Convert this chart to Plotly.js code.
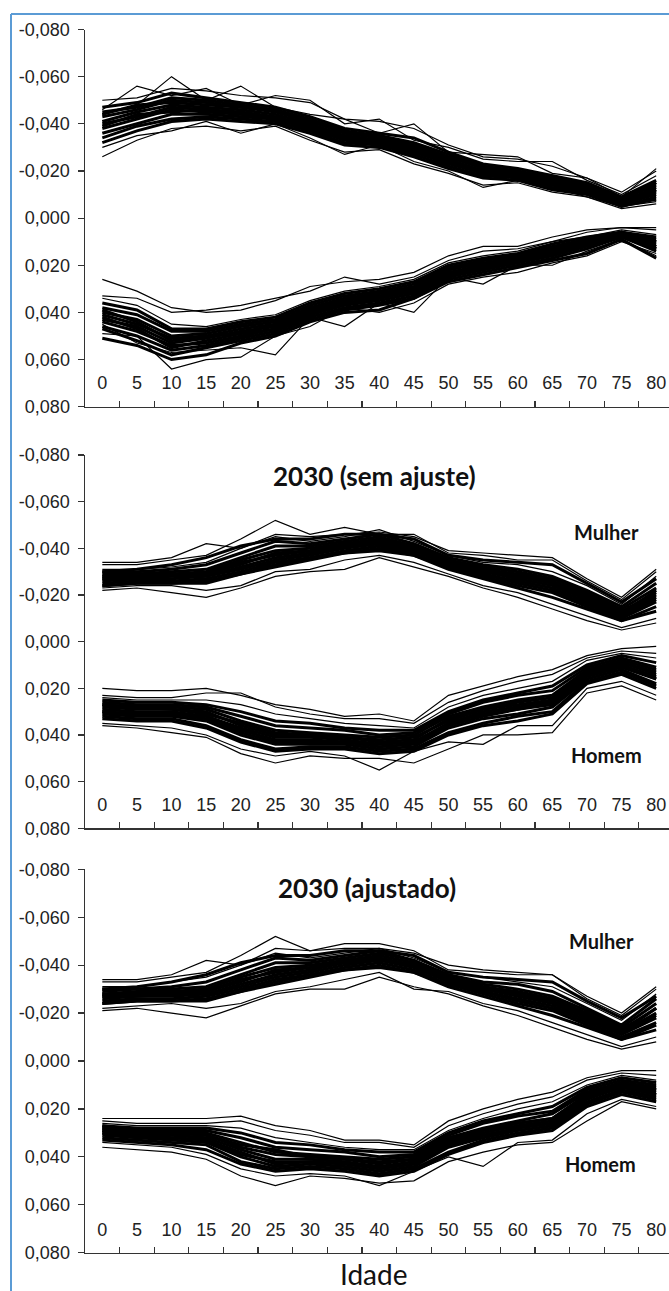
<!DOCTYPE html>
<html>
<head>
<meta charset="utf-8">
<script src="https://cdn.plot.ly/plotly-3.0.1.min.js"></script>
<style>
html,body{margin:0;padding:0;background:#fff;overflow:hidden;}
#chart{width:669px;height:1291px;}
</style>
</head>
<body>
<div id="chart"></div>
<script>
// Categories (age groups)
const idades = ['0','5','10','15','20','25','30','35','40','45','50','55','60','65','70','75','80'];
// Y tick labels
const yTickVals = [-0.08,-0.06,-0.04,-0.02,0,0.02,0.04,0.06,0.08];
const yTickText = ['-0,080','-0,060','-0,040','-0,020','0,000','0,020','0,040','0,060','0,080'];
const titulos = ['2030 (sem ajuste)','2030 (ajustado)'];
const rotulos = ['Mulher','Homem'];
const eixoX = 'Idade';

// Panel 1 - Mulher
const p1Mulher = [
 [-0.050,-0.051,-0.055,-0.054,-0.052,-0.051,-0.049,-0.042,-0.041,-0.038,-0.031,-0.026,-0.025,-0.022,-0.017,-0.011,-0.020],
 [-0.046,-0.056,-0.052,-0.055,-0.048,-0.052,-0.050,-0.040,-0.042,-0.033,-0.030,-0.025,-0.024,-0.024,-0.016,-0.010,-0.018],
 [-0.044,-0.048,-0.060,-0.050,-0.056,-0.047,-0.044,-0.042,-0.036,-0.040,-0.028,-0.027,-0.026,-0.019,-0.017,-0.009,-0.021],
 [-0.047,-0.049,-0.053,-0.051,-0.049,-0.047,-0.043,-0.038,-0.036,-0.034,-0.028,-0.023,-0.021,-0.018,-0.015,-0.009,-0.016],
 [-0.045,-0.047,-0.051,-0.050,-0.048,-0.046,-0.042,-0.037,-0.035,-0.032,-0.027,-0.022,-0.020,-0.017,-0.014,-0.008,-0.015],
 [-0.043,-0.046,-0.050,-0.049,-0.047,-0.045,-0.041,-0.036,-0.034,-0.031,-0.026,-0.021,-0.019,-0.016,-0.013,-0.008,-0.014],
 [-0.041,-0.045,-0.048,-0.047,-0.046,-0.044,-0.040,-0.035,-0.033,-0.030,-0.025,-0.020,-0.019,-0.016,-0.013,-0.007,-0.013],
 [-0.040,-0.043,-0.047,-0.046,-0.045,-0.043,-0.039,-0.034,-0.033,-0.029,-0.024,-0.020,-0.018,-0.015,-0.012,-0.007,-0.012],
 [-0.038,-0.042,-0.046,-0.045,-0.044,-0.042,-0.038,-0.034,-0.032,-0.028,-0.024,-0.019,-0.018,-0.014,-0.012,-0.006,-0.011],
 [-0.036,-0.040,-0.044,-0.044,-0.043,-0.042,-0.038,-0.033,-0.031,-0.028,-0.023,-0.019,-0.017,-0.014,-0.011,-0.006,-0.010],
 [-0.034,-0.039,-0.042,-0.043,-0.042,-0.041,-0.037,-0.032,-0.031,-0.027,-0.022,-0.018,-0.017,-0.013,-0.011,-0.005,-0.009],
 [-0.032,-0.037,-0.041,-0.042,-0.041,-0.040,-0.036,-0.031,-0.030,-0.026,-0.021,-0.017,-0.016,-0.012,-0.010,-0.005,-0.008],
 [-0.026,-0.033,-0.038,-0.039,-0.037,-0.039,-0.033,-0.028,-0.029,-0.023,-0.019,-0.014,-0.015,-0.011,-0.009,-0.004,-0.006],
 [-0.030,-0.035,-0.037,-0.041,-0.036,-0.040,-0.034,-0.027,-0.031,-0.024,-0.020,-0.013,-0.016,-0.013,-0.009,-0.005,-0.007],
 [-0.044,-0.048,-0.049,-0.048,-0.047,-0.046,-0.041,-0.037,-0.034,-0.031,-0.026,-0.022,-0.020,-0.017,-0.014,-0.008,-0.015],
 [-0.039,-0.044,-0.045,-0.046,-0.044,-0.043,-0.039,-0.034,-0.032,-0.029,-0.024,-0.019,-0.018,-0.015,-0.012,-0.006,-0.012]
];
// Panel 1 - Homem
const p1Homem = [
 [0.026,0.031,0.038,0.040,0.039,0.035,0.029,0.027,0.026,0.023,0.016,0.012,0.012,0.008,0.005,0.004,0.005],
 [0.033,0.034,0.040,0.039,0.037,0.034,0.031,0.025,0.028,0.025,0.018,0.014,0.013,0.010,0.006,0.004,0.004],
 [0.034,0.037,0.045,0.046,0.043,0.041,0.035,0.031,0.029,0.026,0.019,0.016,0.014,0.010,0.008,0.005,0.007],
 [0.036,0.039,0.047,0.047,0.044,0.042,0.036,0.032,0.030,0.027,0.020,0.017,0.015,0.011,0.008,0.006,0.008],
 [0.038,0.041,0.048,0.048,0.045,0.043,0.037,0.033,0.031,0.028,0.021,0.018,0.016,0.012,0.009,0.006,0.009],
 [0.040,0.043,0.050,0.049,0.046,0.044,0.038,0.034,0.032,0.029,0.022,0.018,0.016,0.013,0.009,0.006,0.010],
 [0.041,0.045,0.051,0.050,0.047,0.045,0.039,0.035,0.033,0.030,0.022,0.019,0.017,0.014,0.010,0.007,0.011],
 [0.043,0.046,0.053,0.051,0.048,0.046,0.040,0.036,0.034,0.031,0.023,0.020,0.018,0.014,0.010,0.007,0.012],
 [0.044,0.048,0.054,0.053,0.050,0.047,0.041,0.037,0.035,0.032,0.024,0.021,0.018,0.015,0.011,0.007,0.012],
 [0.046,0.050,0.056,0.054,0.051,0.048,0.042,0.038,0.036,0.033,0.025,0.022,0.019,0.016,0.012,0.008,0.013],
 [0.047,0.052,0.058,0.055,0.052,0.049,0.043,0.039,0.037,0.034,0.026,0.023,0.020,0.017,0.013,0.008,0.014],
 [0.051,0.054,0.060,0.058,0.053,0.050,0.044,0.040,0.039,0.034,0.027,0.024,0.021,0.018,0.015,0.009,0.017],
 [0.049,0.050,0.064,0.060,0.059,0.050,0.046,0.038,0.040,0.036,0.028,0.025,0.023,0.019,0.016,0.010,0.015],
 [0.045,0.053,0.057,0.056,0.055,0.058,0.042,0.046,0.036,0.040,0.025,0.028,0.020,0.020,0.014,0.009,0.016],
 [0.039,0.044,0.052,0.050,0.049,0.045,0.039,0.035,0.032,0.030,0.021,0.020,0.017,0.013,0.010,0.006,0.010],
 [0.042,0.047,0.055,0.052,0.049,0.047,0.041,0.036,0.034,0.031,0.024,0.021,0.018,0.015,0.011,0.007,0.013]
];
// Panel 2 (sem ajuste) - Mulher
const p2Mulher = [
 [-0.034,-0.034,-0.036,-0.042,-0.040,-0.046,-0.045,-0.046,-0.047,-0.045,-0.039,-0.038,-0.037,-0.036,-0.027,-0.019,-0.031],
 [-0.033,-0.033,-0.035,-0.037,-0.044,-0.052,-0.046,-0.049,-0.046,-0.046,-0.038,-0.037,-0.035,-0.035,-0.026,-0.018,-0.030],
 [-0.031,-0.031,-0.032,-0.034,-0.040,-0.045,-0.043,-0.045,-0.048,-0.043,-0.037,-0.034,-0.033,-0.030,-0.024,-0.016,-0.028],
 [-0.030,-0.030,-0.031,-0.033,-0.038,-0.043,-0.042,-0.044,-0.046,-0.042,-0.036,-0.033,-0.031,-0.028,-0.022,-0.015,-0.025],
 [-0.029,-0.029,-0.030,-0.031,-0.036,-0.041,-0.041,-0.043,-0.045,-0.041,-0.035,-0.032,-0.030,-0.027,-0.021,-0.014,-0.023],
 [-0.028,-0.029,-0.029,-0.030,-0.035,-0.039,-0.040,-0.042,-0.044,-0.041,-0.035,-0.031,-0.029,-0.026,-0.020,-0.013,-0.021],
 [-0.028,-0.028,-0.029,-0.029,-0.033,-0.038,-0.039,-0.041,-0.043,-0.040,-0.034,-0.031,-0.028,-0.025,-0.019,-0.012,-0.020],
 [-0.027,-0.027,-0.028,-0.028,-0.032,-0.036,-0.038,-0.041,-0.042,-0.040,-0.034,-0.030,-0.027,-0.024,-0.018,-0.012,-0.019],
 [-0.026,-0.027,-0.027,-0.028,-0.031,-0.035,-0.037,-0.040,-0.042,-0.039,-0.033,-0.029,-0.026,-0.023,-0.017,-0.011,-0.018],
 [-0.025,-0.026,-0.026,-0.027,-0.030,-0.034,-0.036,-0.039,-0.041,-0.038,-0.032,-0.029,-0.025,-0.022,-0.016,-0.010,-0.017],
 [-0.024,-0.025,-0.025,-0.026,-0.029,-0.033,-0.036,-0.038,-0.040,-0.037,-0.032,-0.028,-0.024,-0.021,-0.015,-0.009,-0.015],
 [-0.024,-0.025,-0.025,-0.025,-0.029,-0.032,-0.035,-0.038,-0.039,-0.037,-0.031,-0.027,-0.023,-0.019,-0.014,-0.009,-0.013],
 [-0.022,-0.023,-0.021,-0.019,-0.023,-0.028,-0.030,-0.031,-0.036,-0.032,-0.028,-0.023,-0.019,-0.014,-0.009,-0.005,-0.008],
 [-0.023,-0.024,-0.024,-0.022,-0.024,-0.030,-0.031,-0.035,-0.037,-0.034,-0.029,-0.024,-0.021,-0.016,-0.011,-0.006,-0.010],
 [-0.030,-0.031,-0.033,-0.036,-0.041,-0.044,-0.044,-0.046,-0.046,-0.044,-0.037,-0.035,-0.034,-0.033,-0.025,-0.017,-0.027],
 [-0.027,-0.028,-0.028,-0.029,-0.034,-0.037,-0.039,-0.042,-0.043,-0.040,-0.034,-0.030,-0.028,-0.025,-0.019,-0.012,-0.022]
];
// Panel 2 (sem ajuste) - Homem
const p2Homem = [
 [0.020,0.021,0.021,0.020,0.023,0.027,0.029,0.032,0.031,0.034,0.023,0.019,0.015,0.012,0.006,0.003,0.002],
 [0.023,0.024,0.024,0.022,0.022,0.028,0.031,0.033,0.033,0.035,0.026,0.021,0.017,0.014,0.007,0.004,0.005],
 [0.024,0.025,0.025,0.025,0.027,0.031,0.033,0.035,0.036,0.037,0.028,0.023,0.020,0.017,0.008,0.005,0.007],
 [0.025,0.026,0.026,0.027,0.030,0.034,0.035,0.037,0.038,0.038,0.030,0.025,0.022,0.019,0.010,0.006,0.009],
 [0.026,0.027,0.027,0.028,0.032,0.036,0.037,0.038,0.040,0.039,0.031,0.026,0.023,0.021,0.011,0.007,0.011],
 [0.027,0.028,0.028,0.029,0.034,0.038,0.039,0.040,0.041,0.040,0.032,0.028,0.025,0.023,0.012,0.008,0.012],
 [0.028,0.029,0.029,0.030,0.036,0.040,0.040,0.041,0.042,0.041,0.034,0.029,0.026,0.024,0.013,0.009,0.014],
 [0.029,0.030,0.030,0.032,0.037,0.041,0.041,0.042,0.044,0.043,0.035,0.030,0.028,0.026,0.014,0.010,0.015],
 [0.030,0.031,0.031,0.033,0.039,0.043,0.043,0.043,0.045,0.044,0.036,0.032,0.029,0.027,0.015,0.011,0.016],
 [0.031,0.032,0.032,0.034,0.040,0.044,0.044,0.044,0.046,0.045,0.037,0.033,0.031,0.028,0.016,0.012,0.018],
 [0.032,0.033,0.033,0.036,0.042,0.046,0.045,0.045,0.047,0.046,0.039,0.035,0.032,0.030,0.017,0.013,0.019],
 [0.033,0.034,0.034,0.037,0.043,0.047,0.046,0.046,0.048,0.047,0.040,0.036,0.034,0.031,0.018,0.014,0.020],
 [0.036,0.037,0.039,0.041,0.048,0.052,0.049,0.050,0.050,0.052,0.046,0.040,0.040,0.039,0.022,0.019,0.025],
 [0.035,0.036,0.037,0.040,0.046,0.049,0.047,0.049,0.055,0.047,0.043,0.044,0.036,0.036,0.020,0.017,0.023],
 [0.027,0.028,0.029,0.031,0.035,0.039,0.040,0.041,0.043,0.042,0.033,0.029,0.027,0.025,0.013,0.009,0.013],
 [0.030,0.031,0.031,0.032,0.038,0.042,0.042,0.043,0.044,0.043,0.035,0.031,0.029,0.026,0.014,0.010,0.016]
];
// Panel 3 (ajustado) - Mulher
const p3Mulher = [
 [-0.034,-0.034,-0.036,-0.042,-0.040,-0.047,-0.046,-0.047,-0.047,-0.045,-0.040,-0.038,-0.037,-0.036,-0.027,-0.020,-0.031],
 [-0.033,-0.033,-0.035,-0.037,-0.044,-0.052,-0.046,-0.049,-0.049,-0.046,-0.038,-0.037,-0.036,-0.036,-0.026,-0.019,-0.030],
 [-0.031,-0.031,-0.033,-0.035,-0.040,-0.045,-0.043,-0.045,-0.047,-0.043,-0.037,-0.035,-0.033,-0.031,-0.024,-0.017,-0.028],
 [-0.030,-0.030,-0.031,-0.033,-0.038,-0.043,-0.042,-0.044,-0.046,-0.042,-0.036,-0.033,-0.032,-0.029,-0.022,-0.015,-0.026],
 [-0.029,-0.030,-0.030,-0.031,-0.036,-0.041,-0.041,-0.043,-0.045,-0.042,-0.035,-0.032,-0.030,-0.027,-0.021,-0.014,-0.024],
 [-0.028,-0.029,-0.029,-0.030,-0.035,-0.039,-0.040,-0.042,-0.044,-0.041,-0.035,-0.031,-0.029,-0.026,-0.020,-0.013,-0.022],
 [-0.028,-0.028,-0.029,-0.029,-0.033,-0.038,-0.039,-0.041,-0.043,-0.040,-0.034,-0.031,-0.028,-0.025,-0.019,-0.012,-0.020],
 [-0.027,-0.027,-0.028,-0.028,-0.032,-0.036,-0.038,-0.041,-0.042,-0.040,-0.034,-0.030,-0.027,-0.024,-0.018,-0.012,-0.019],
 [-0.026,-0.027,-0.027,-0.028,-0.031,-0.035,-0.037,-0.040,-0.042,-0.039,-0.033,-0.029,-0.026,-0.023,-0.017,-0.011,-0.018],
 [-0.025,-0.026,-0.026,-0.027,-0.030,-0.034,-0.036,-0.039,-0.041,-0.038,-0.032,-0.029,-0.025,-0.022,-0.016,-0.010,-0.016],
 [-0.024,-0.025,-0.025,-0.026,-0.029,-0.033,-0.036,-0.038,-0.040,-0.037,-0.032,-0.028,-0.024,-0.021,-0.015,-0.009,-0.015],
 [-0.024,-0.025,-0.025,-0.025,-0.029,-0.032,-0.035,-0.038,-0.039,-0.037,-0.031,-0.027,-0.023,-0.019,-0.014,-0.009,-0.013],
 [-0.021,-0.022,-0.020,-0.018,-0.023,-0.028,-0.030,-0.030,-0.035,-0.031,-0.028,-0.023,-0.019,-0.014,-0.009,-0.005,-0.008],
 [-0.022,-0.023,-0.024,-0.022,-0.024,-0.029,-0.031,-0.034,-0.037,-0.030,-0.029,-0.024,-0.021,-0.016,-0.011,-0.006,-0.010],
 [-0.030,-0.031,-0.033,-0.036,-0.041,-0.044,-0.044,-0.046,-0.046,-0.044,-0.037,-0.035,-0.034,-0.033,-0.025,-0.018,-0.027],
 [-0.027,-0.028,-0.028,-0.029,-0.034,-0.037,-0.039,-0.042,-0.043,-0.040,-0.034,-0.030,-0.028,-0.025,-0.019,-0.012,-0.022]
];
// Panel 3 (ajustado) - Homem
const p3Homem = [
 [0.024,0.024,0.024,0.024,0.023,0.027,0.029,0.033,0.033,0.035,0.025,0.020,0.016,0.013,0.007,0.004,0.004],
 [0.025,0.026,0.026,0.026,0.025,0.029,0.031,0.034,0.034,0.036,0.027,0.022,0.018,0.015,0.008,0.005,0.006],
 [0.026,0.027,0.027,0.027,0.028,0.032,0.034,0.036,0.037,0.037,0.029,0.024,0.020,0.017,0.010,0.006,0.008],
 [0.027,0.028,0.028,0.028,0.030,0.034,0.035,0.037,0.038,0.038,0.030,0.025,0.022,0.019,0.011,0.007,0.009],
 [0.027,0.029,0.029,0.029,0.032,0.036,0.037,0.038,0.040,0.039,0.031,0.026,0.023,0.021,0.012,0.008,0.010],
 [0.028,0.029,0.030,0.030,0.034,0.038,0.039,0.040,0.041,0.040,0.032,0.028,0.025,0.022,0.013,0.009,0.011],
 [0.029,0.030,0.030,0.031,0.036,0.039,0.040,0.041,0.042,0.041,0.033,0.029,0.026,0.024,0.014,0.009,0.012],
 [0.029,0.031,0.031,0.032,0.037,0.041,0.041,0.042,0.044,0.042,0.034,0.030,0.027,0.025,0.015,0.010,0.013],
 [0.030,0.031,0.032,0.033,0.039,0.042,0.042,0.043,0.045,0.043,0.035,0.031,0.028,0.026,0.016,0.011,0.014],
 [0.031,0.032,0.033,0.034,0.040,0.044,0.043,0.044,0.046,0.044,0.036,0.032,0.029,0.027,0.017,0.012,0.015],
 [0.032,0.033,0.034,0.035,0.042,0.045,0.044,0.045,0.047,0.045,0.038,0.033,0.030,0.028,0.018,0.013,0.016],
 [0.033,0.034,0.035,0.037,0.043,0.046,0.045,0.046,0.048,0.046,0.039,0.034,0.031,0.029,0.019,0.014,0.017],
 [0.036,0.037,0.038,0.041,0.048,0.052,0.048,0.049,0.051,0.050,0.042,0.038,0.035,0.034,0.025,0.017,0.020],
 [0.034,0.035,0.036,0.039,0.045,0.048,0.047,0.048,0.052,0.046,0.040,0.044,0.034,0.033,0.022,0.016,0.019],
 [0.028,0.030,0.030,0.031,0.035,0.037,0.040,0.041,0.043,0.041,0.033,0.029,0.026,0.024,0.014,0.010,0.012],
 [0.030,0.032,0.032,0.033,0.038,0.043,0.042,0.043,0.045,0.043,0.035,0.031,0.028,0.026,0.015,0.011,0.014]
];

const W = 669, H = 1291;
const px = v => v / W;
const py = v => 1 - v / H;

const panels = [
  {groups:[p1Mulher,p1Homem], top:29.5, bottom:406.7, labelY:370},
  {groups:[p2Mulher,p2Homem], top:455, bottom:828.3, labelY:792},
  {groups:[p3Mulher,p3Homem], top:869.3, bottom:1252.7, labelY:1217}
];

// thin lines for the outer/jagged series, thicker for the dense core
const outer = new Set([0,1,2,12,13]);

const traces = [];
panels.forEach((p, i) => {
  const sfx = i === 0 ? '' : String(i + 1);
  p.groups.forEach(g => {
    g.forEach((serie, k) => {
      traces.push({
        type:'scatter', mode:'lines', x: idades, y: serie,
        xaxis:'x' + sfx, yaxis:'y' + sfx,
        line:{color:'#000', width: outer.has(k) ? 1.2 : 3}, hoverinfo:'skip', showlegend:false
      });
    });
  });
  // empty trace so that the label-only subplot exists
  const n = i + 4;
  traces.push({type:'scatter', mode:'lines', x:[], y:[], xaxis:'x' + n, yaxis:'y' + n,
    hoverinfo:'skip', showlegend:false});
});

const tickFont = {family:'"Liberation Sans", Arial, sans-serif', size:18, color:'#222'};
const layout = {
  width: W, height: H,
  margin:{l:0, r:0, t:0, b:0},
  paper_bgcolor:'#fff', plot_bgcolor:'rgba(0,0,0,0)',
  showlegend:false,
  annotations: [], shapes: []
};

const xRange = [-0.5, 16.37];
panels.forEach((p, i) => {
  const sfx = i === 0 ? '' : String(i + 1);
  layout['xaxis' + sfx] = {
    type:'category', domain:[px(85), 1], range:xRange, anchor:'y' + sfx,
    showline:true, linecolor:'#333', linewidth:1.5,
    ticks:'inside', ticklen:6, tickcolor:'#333', tickwidth:1.2,
    tickson:'boundaries', showticklabels:false,
    showgrid:false, zeroline:false, fixedrange:true
  };
  layout['yaxis' + sfx] = {
    domain:[py(p.bottom), py(p.top)], range:[0.08, -0.08], anchor:'x' + sfx,
    tickvals: yTickVals, ticktext: yTickText,
    showline:true, linecolor:'#333', linewidth:1.5,
    ticks:'outside', ticklen:6, tickcolor:'#333', tickwidth:1.2,
    ticklabelstandoff:4,
    tickfont: tickFont, showgrid:false, zeroline:false, fixedrange:true
  };
  // label-only axis pair: carries the age labels just above each panel's x axis
  const n = i + 4;
  layout['xaxis' + n] = {
    visible:true, type:'linear', domain:[px(85), 1], range:xRange, anchor:'y' + n,
    tickmode:'array', tickvals: idades.map((_, j) => j), ticktext: idades,
    showticklabels:true, showline:false, ticks:'', tickfont: tickFont,
    showgrid:false, zeroline:false, fixedrange:true
  };
  layout['yaxis' + n] = {
    visible:true, domain:[py(p.labelY), py(p.top)], range:[0, 1], anchor:'x' + n,
    showline:false, ticks:'', showticklabels:false,
    showgrid:false, zeroline:false, fixedrange:true
  };
});

const titleFont = {family:'Lato, "Open Sans", sans-serif', size:26, color:'#111', weight:'bold'};
const labelFont = {family:'Lato, "Open Sans", sans-serif', size:20, color:'#111', weight:'bold'};
function ann(text, x, y, font){
  layout.annotations.push({text:text, xref:'paper', yref:'paper', x:px(x), y:py(y),
    xanchor:'center', yanchor:'middle', showarrow:false, font:font});
}
ann('<b>' + titulos[0] + '</b>', 375, 476, titleFont);
ann('<b>' + titulos[1] + '</b>', 367, 888, titleFont);
ann('<b>' + rotulos[0] + '</b>', 606, 532, labelFont);
ann('<b>' + rotulos[1] + '</b>', 606, 755, labelFont);
ann('<b>' + rotulos[0] + '</b>', 601, 941, labelFont);
ann('<b>' + rotulos[1] + '</b>', 600, 1164, labelFont);
ann(eixoX, 373.5, 1274, {family:'Lato, "Open Sans", sans-serif', size:28, color:'#111'});

// light blue frame (left and top edges)
layout.shapes.push({type:'line', xref:'paper', yref:'paper', x0:px(11), x1:px(11), y0:py(14), y1:0, line:{color:'#5b9bd5', width:2}});
layout.shapes.push({type:'line', xref:'paper', yref:'paper', x0:px(11), x1:1, y0:py(14), y1:py(14), line:{color:'#5b9bd5', width:2}});

Plotly.newPlot('chart', traces, layout, {staticPlot:true, displayModeBar:false});
</script>
</body>
</html>
